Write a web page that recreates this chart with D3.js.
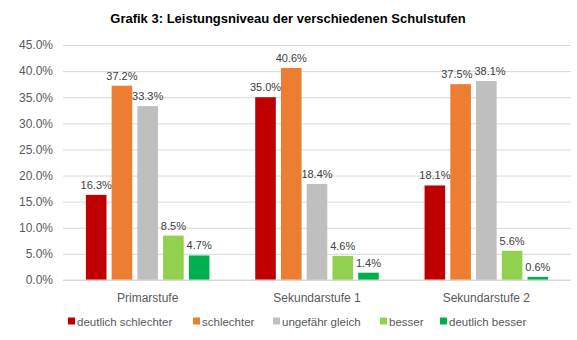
<!DOCTYPE html>
<html><head><meta charset="utf-8">
<script src="https://cdn.jsdelivr.net/npm/d3@7"></script>
<style>body{margin:0;background:#fff;} text{font-family:"Liberation Sans",Arial,sans-serif;}</style>
</head><body><svg id="c" width="577" height="340"></svg>
<script>
const categories = ["Primarstufe", "Sekundarstufe 1", "Sekundarstufe 2"];
const seriesNames = ["deutlich schlechter", "schlechter", "ungefähr gleich", "besser", "deutlich besser"];
const deutlichSchlechter = [16.3, 35.0, 18.1];
const schlechter = [37.2, 40.6, 37.5];
const ungefaehrGleich = [33.3, 18.4, 38.1];
const besser = [8.5, 4.6, 5.6];
const deutlichBesser = [4.7, 1.4, 0.6];
const yTicks = [0, 5, 10, 15, 20, 25, 30, 35, 40, 45];
const colors = ["#C00000", "#ED7D31", "#BFBFBF", "#92D050", "#00B050"];
const title = "Grafik 3: Leistungsniveau der verschiedenen Schulstufen";

const seriesValues = [deutlichSchlechter, schlechter, ungefaehrGleich, besser, deutlichBesser];
const svg = d3.select("#c");
const m = {l: 63, r: 6, t: 45, b: 60};
const W = 577, H = 340;
const x0 = d3.scaleBand().domain(categories).range([m.l, W - m.r]).paddingInner(0.24).paddingOuter(0.12);
const x1 = d3.scaleBand().domain(seriesNames).range([0, x0.bandwidth()]).paddingInner(0.2).paddingOuter(0.1);
const y = d3.scaleLinear().domain([0, 45]).range([H - m.b, m.t]);

svg.append("text").attr("x", 288).attr("y", 23).attr("text-anchor", "middle")
  .attr("font-size", 13).attr("font-weight", "bold").attr("fill", "#000").text(title);

const yAxis = d3.axisLeft(y).tickValues(yTicks).tickSize(-(W - m.r - m.l)).tickFormat(d => d.toFixed(1) + "%");
const ga = svg.append("g").attr("transform", `translate(${m.l},0)`).call(yAxis);
ga.select(".domain").remove();
ga.selectAll(".tick line").attr("stroke", "#D9D9D9");
ga.selectAll(".tick text").attr("x", -10).attr("fill", "#595959").attr("font-size", 12);

const groups = svg.append("g").selectAll("g").data(categories).join("g")
  .attr("transform", d => `translate(${x0(d)},0)`);
seriesNames.forEach((s, si) => {
  groups.append("rect")
    .attr("x", x1(s)).attr("width", x1.bandwidth())
    .attr("y", (d, i) => y(seriesValues[si][i]))
    .attr("height", (d, i) => y(0) - y(seriesValues[si][i]))
    .attr("fill", colors[si]);
});
// labels with simple horizontal collision avoidance
groups.each(function(cat, ci) {
  const g = d3.select(this);
  const labs = seriesNames.map((s, si) => {
    const v = seriesValues[si][ci];
    const t = g.append("text")
      .attr("x", x1(s) + x1.bandwidth() / 2)
      .attr("y", y(v) - 6)
      .attr("text-anchor", "middle").attr("font-size", 11).attr("fill", "#404040")
      .text(v.toFixed(1) + "%");
    return {t, cx: x1(s) + x1.bandwidth() / 2, y: y(v) - 6, w: t.node().getComputedTextLength()};
  });
  for (let k = 0; k < labs.length - 1; k++) {
    const a = labs[k], b = labs[k + 1];
    if (Math.abs(a.y - b.y) < 12) {
      const need = (a.w + b.w) / 2 + 2 - (b.cx - a.cx);
      if (need > 0) { a.cx -= need / 2; b.cx += need / 2; a.t.attr("x", a.cx); b.t.attr("x", b.cx); }
    }
  }
});

svg.append("line").attr("x1", m.l).attr("x2", W - m.r).attr("y1", y(0)).attr("y2", y(0)).attr("stroke", "#D9D9D9");

svg.append("g").selectAll("text").data(categories).join("text")
  .attr("x", d => x0(d) + x0.bandwidth() / 2).attr("y", 302)
  .attr("text-anchor", "middle").attr("font-size", 12).attr("fill", "#595959").text(d => d);

const legX = [68, 193, 273, 380, 440];
const leg = svg.append("g").selectAll("g").data(seriesNames).join("g")
  .attr("transform", (d, i) => `translate(${legX[i]},321)`);
leg.append("rect").attr("x", 0).attr("y", -3.5).attr("width", 7).attr("height", 7).attr("fill", (d, i) => colors[i]);
leg.append("text").attr("x", 9).attr("y", 4.5).attr("font-size", 11.5).attr("fill", "#595959").text(d => d);
</script></body></html>
